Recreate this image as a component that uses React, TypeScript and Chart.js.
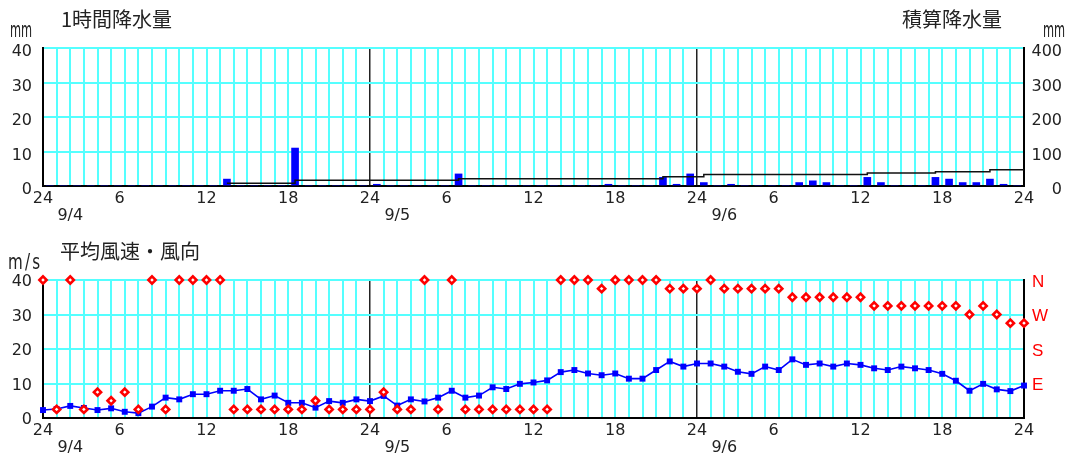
import { useEffect, useRef } from 'react';
import { Chart, registerables } from 'chart.js';

Chart.register(...registerables);

// ---- x axis (hours from 9/4 0:00 to 9/6 24:00) ----
const xTickLabels = ['24', '6', '12', '18', '24', '6', '12', '18', '24', '6', '12', '18', '24']; // every 6 h
const dateLabels = ['9/4', '9/5', '9/6'];

// ---- 1時間降水量 (mm), one value per hour 0..71 ----
const precipHourly = [
  0, 0, 0, 0, 0, 0, 0, 0, 0, 0, 0, 0, 0, 2, 0, 0, 0, 0, 11, 0, 0, 0, 0, 0,
  0.5, 0, 0, 0, 0, 0, 3.5, 0, 0, 0, 0, 0, 0, 0, 0, 0, 0, 0.5, 0, 0, 0, 2.5, 0.5, 3.5,
  1, 0, 0.5, 0, 0, 0, 0, 1, 1.5, 1, 0, 0, 2.5, 1, 0, 0, 0, 2.5, 2, 1, 1, 2, 0.5, 0,
];

// ---- 積算降水量 (mm), one value per hour 0..71 ----
const precipCumulative = [
  null, null, null, null, null, null, null, null, null, null, null, null, null, 8, 8, 8, 8, 8, 16.5, 16.5, 16.5, 16.5, 16.5, 16.5,
  16.5, 16.5, 16.5, 16.5, 16.5, 16.5, 21, 21, 21, 21, 21, 21, 21, 21, 21, 21, 21, 21, 21, 21, 21, 27, 27, 27,
  33, 33, 33, 33, 33, 33, 33, 33, 33, 33, 33, 33, 37.5, 37.5, 37.5, 37.5, 37.5, 41.5, 41.5, 41.5, 41.5, 47, 47, 47,
];

// ---- 平均風速 (m/s), one value per hour 0..72 ----
const windSpeed = [
  2.3, 2.6, 3.5, 2.9, 2.3, 2.8, 1.8, 1.4, 3.3, 5.9, 5.4, 6.9, 6.9, 7.9, 7.9, 8.4, 5.4, 6.5, 4.4, 4.4, 3.0, 4.9, 4.4, 5.4,
  4.9, 6.4, 3.6, 5.4, 4.8, 5.9, 7.9, 5.9, 6.5, 8.9, 8.4, 9.9, 10.3, 10.9, 13.3, 13.9, 12.9, 12.4, 12.9, 11.4, 11.4, 13.9, 16.4, 14.9,
  15.8, 15.8, 14.9, 13.4, 12.8, 14.9, 13.9, 17.0, 15.4, 15.8, 14.9, 15.8, 15.4, 14.4, 13.9, 14.9, 14.4, 13.9, 12.8, 10.8, 7.9, 9.9, 8.3, 7.8,
  9.4,
];

// ---- 風向, one value per hour 0..72 ----
const windDir = [
  'N', 'NNE', 'N', 'NNE', 'ENE', 'NE', 'ENE', 'NNE', 'N', 'NNE', 'N', 'N', 'N', 'N', 'NNE', 'NNE', 'NNE', 'NNE', 'NNE', 'NNE', 'NE', 'NNE', 'NNE', 'NNE',
  'NNE', 'ENE', 'NNE', 'NNE', 'N', 'NNE', 'N', 'NNE', 'NNE', 'NNE', 'NNE', 'NNE', 'NNE', 'NNE', 'N', 'N', 'N', 'NNW', 'N', 'N', 'N', 'N', 'NNW', 'NNW',
  'NNW', 'N', 'NNW', 'NNW', 'NNW', 'NNW', 'NNW', 'NW', 'NW', 'NW', 'NW', 'NW', 'NW', 'WNW', 'WNW', 'WNW', 'WNW', 'WNW', 'WNW', 'WNW', 'W', 'WNW', 'W', 'WSW',
  'WSW',
];
const compassPoints = ['N', 'NNE', 'NE', 'ENE', 'E', 'ESE', 'SE', 'SSE', 'S', 'SSW', 'SW', 'WSW', 'W', 'WNW', 'NW', 'NNW'];
const dirAxisLabels = ['', 'E', 'S', 'W', 'N'];

const CYAN = '#55ffff';
const DAY = '#222222';
const TICK_FONT = { family: 'DejaVu Sans', size: 16, lineHeight: 1.0625 };

function xScale() {
  return {
    type: 'linear',
    min: 0,
    max: 72,
    offset: false,
    afterFit: (s: any) => { s.height = 46; },
    ticks: {
      stepSize: 1,
      autoSkip: false,
      maxRotation: 0,
      minRotation: 0,
      padding: 4,
      color: '#222',
      font: TICK_FONT,
      callback: (value: any) => {
        const v = Math.round(Number(value));
        if (v % 6 === 0) {
          const s = xTickLabels[v / 6];
          return s.length === 1 ? s + '\u2007' : s;
        }
        if ((v - 2) % 24 === 0) return ['', dateLabels[(v - 2) / 24]];
        return '';
      },
    },
    grid: {
      offset: false,
      drawTicks: false,
      color: (ctx: any) => (ctx.tick && ctx.tick.value % 24 === 0 ? DAY : CYAN),
      lineWidth: (ctx: any) => (ctx.tick && ctx.tick.value % 24 === 0 ? 1.5 : 2),
    },
    border: { color: '#000', width: 2 },
  };
}

function leftScale() {
  return {
    position: 'left',
    min: 0,
    max: 40,
    afterFit: (s: any) => { s.width = 43; },
    ticks: { stepSize: 10, padding: 11, color: '#222', font: TICK_FONT },
    grid: {
      drawTicks: false,
      color: (ctx: any) => (ctx.tick && ctx.tick.value === 0 ? 'rgba(0,0,0,0)' : CYAN),
      lineWidth: 2,
    },
    border: { color: '#000', width: 2 },
  };
}

function buildTop(): any {
  const bars = precipHourly.map((v, i) => ({ x: i + 0.5, y: v }));
  const line: any[] = precipCumulative.map((v, i) => ({ x: i + 0.5, y: v }));
  line.push({ x: 72, y: precipCumulative[precipCumulative.length - 1] });
  const y = leftScale() as any;
  y.ticks.labelOffset = 4;
  return {
    type: 'bar',
    data: {
      datasets: [
        { type: 'line', data: line, yAxisID: 'y2', borderColor: '#111', borderWidth: 1.5, pointRadius: 0, stepped: 'before', order: 0, clip: false },
        { type: 'bar', data: bars, yAxisID: 'y', backgroundColor: '#0000ff', barThickness: 7, grouped: false, order: 1 },
      ],
    },
    options: {
      responsive: false,
      animation: false,
      layout: { padding: { top: 48, left: 0, right: 9, bottom: 0 } },
      plugins: { legend: { display: false }, tooltip: { enabled: false } },
      scales: {
        x: xScale(),
        y,
        y2: {
          position: 'right',
          min: 0,
          max: 400,
          afterFit: (s: any) => { s.width = 38; },
          ticks: { stepSize: 100, crossAlign: 'far', labelOffset: 4, color: '#222', font: TICK_FONT },
          grid: { display: false, drawTicks: false },
          border: { color: '#000', width: 2 },
        },
      },
    },
  };
}

function buildBottom(): any {
  const speed = windSpeed.map((v, i) => ({ x: i, y: v }));
  const dir = windDir.map((d, i) => {
    const idx = compassPoints.indexOf(d);
    return { x: i, y: (idx === 0 ? 16 : idx) * 2.5 };
  });
  const y = leftScale() as any;
  y.ticks.labelOffset = 2;
  return {
    type: 'line',
    data: {
      datasets: [
        {
          data: dir, yAxisID: 'y2', showLine: false, pointStyle: 'rectRot', pointRadius: 3.6,
          pointBorderWidth: 2.6, pointBorderColor: '#ff0000', pointBackgroundColor: '#ffffff', order: 0, clip: false,
        },
        {
          data: speed, yAxisID: 'y', borderColor: '#0000ff', borderWidth: 1.6, pointStyle: 'rect', pointRadius: 4.2,
          pointBorderWidth: 0, pointBackgroundColor: '#0000ff', order: 1, clip: false,
        },
      ],
    },
    options: {
      responsive: false,
      animation: false,
      layout: { padding: { top: 48, left: 0, right: 9, bottom: 0 } },
      plugins: { legend: { display: false }, tooltip: { enabled: false } },
      scales: {
        x: xScale(),
        y,
        y2: {
          position: 'right',
          min: 0,
          max: 40,
          afterFit: (s: any) => { s.width = 38; },
          ticks: {
            stepSize: 10, padding: 8, labelOffset: 2, color: '#ff0000',
            font: { family: 'Liberation Sans', size: 17 },
            callback: (value: any) => dirAxisLabels[Math.round(Number(value) / 10)] ?? '',
          },
          grid: { display: false, drawTicks: false },
          border: { color: '#000', width: 2 },
        },
      },
    },
  };
}

const titleStyle: any = {
  position: 'absolute',
  fontFamily: '"Noto Sans CJK JP", sans-serif',
  fontSize: 20,
  lineHeight: '20px',
  color: '#222',
  whiteSpace: 'nowrap',
};
const unitStyle: any = {
  position: 'absolute',
  fontFamily: '"DejaVu Sans", sans-serif',
  fontSize: 21,
  lineHeight: '21px',
  color: '#222',
  whiteSpace: 'nowrap',
  transform: 'scaleX(0.54)',
  transformOrigin: 'left top',
};

export default function App() {
  const topRef = useRef<HTMLCanvasElement>(null);
  const botRef = useRef<HTMLCanvasElement>(null);
  useEffect(() => {
    const c1 = new Chart(topRef.current as HTMLCanvasElement, buildTop());
    const c2 = new Chart(botRef.current as HTMLCanvasElement, buildBottom());
    return () => {
      c1.destroy();
      c2.destroy();
    };
  }, []);
  return (
    <div style={{ position: 'fixed', left: 0, top: 0, width: 1071, height: 464, background: '#fff', overflow: 'hidden' }}>
      <canvas ref={topRef} width={1071} height={232} style={{ position: 'absolute', left: 0, top: 0, width: 1071, height: 232 }} />
      <canvas ref={botRef} width={1071} height={232} style={{ position: 'absolute', left: 0, top: 232, width: 1071, height: 232 }} />
      <div style={{ ...titleStyle, left: 61, top: 9 }}>1時間降水量</div>
      <div style={{ ...titleStyle, left: 902, top: 9 }}>積算降水量</div>
      <div style={{ ...titleStyle, left: 60, top: 241 }}>平均風速・風向</div>
      <div style={{ ...unitStyle, left: 10, top: 20 }}>mm</div>
      <div style={{ ...unitStyle, left: 1043, top: 20 }}>mm</div>
      <div style={{ ...unitStyle, left: 8, top: 252, transform: 'scaleX(0.72)', letterSpacing: 3 }}>m/s</div>
    </div>
  );
}
